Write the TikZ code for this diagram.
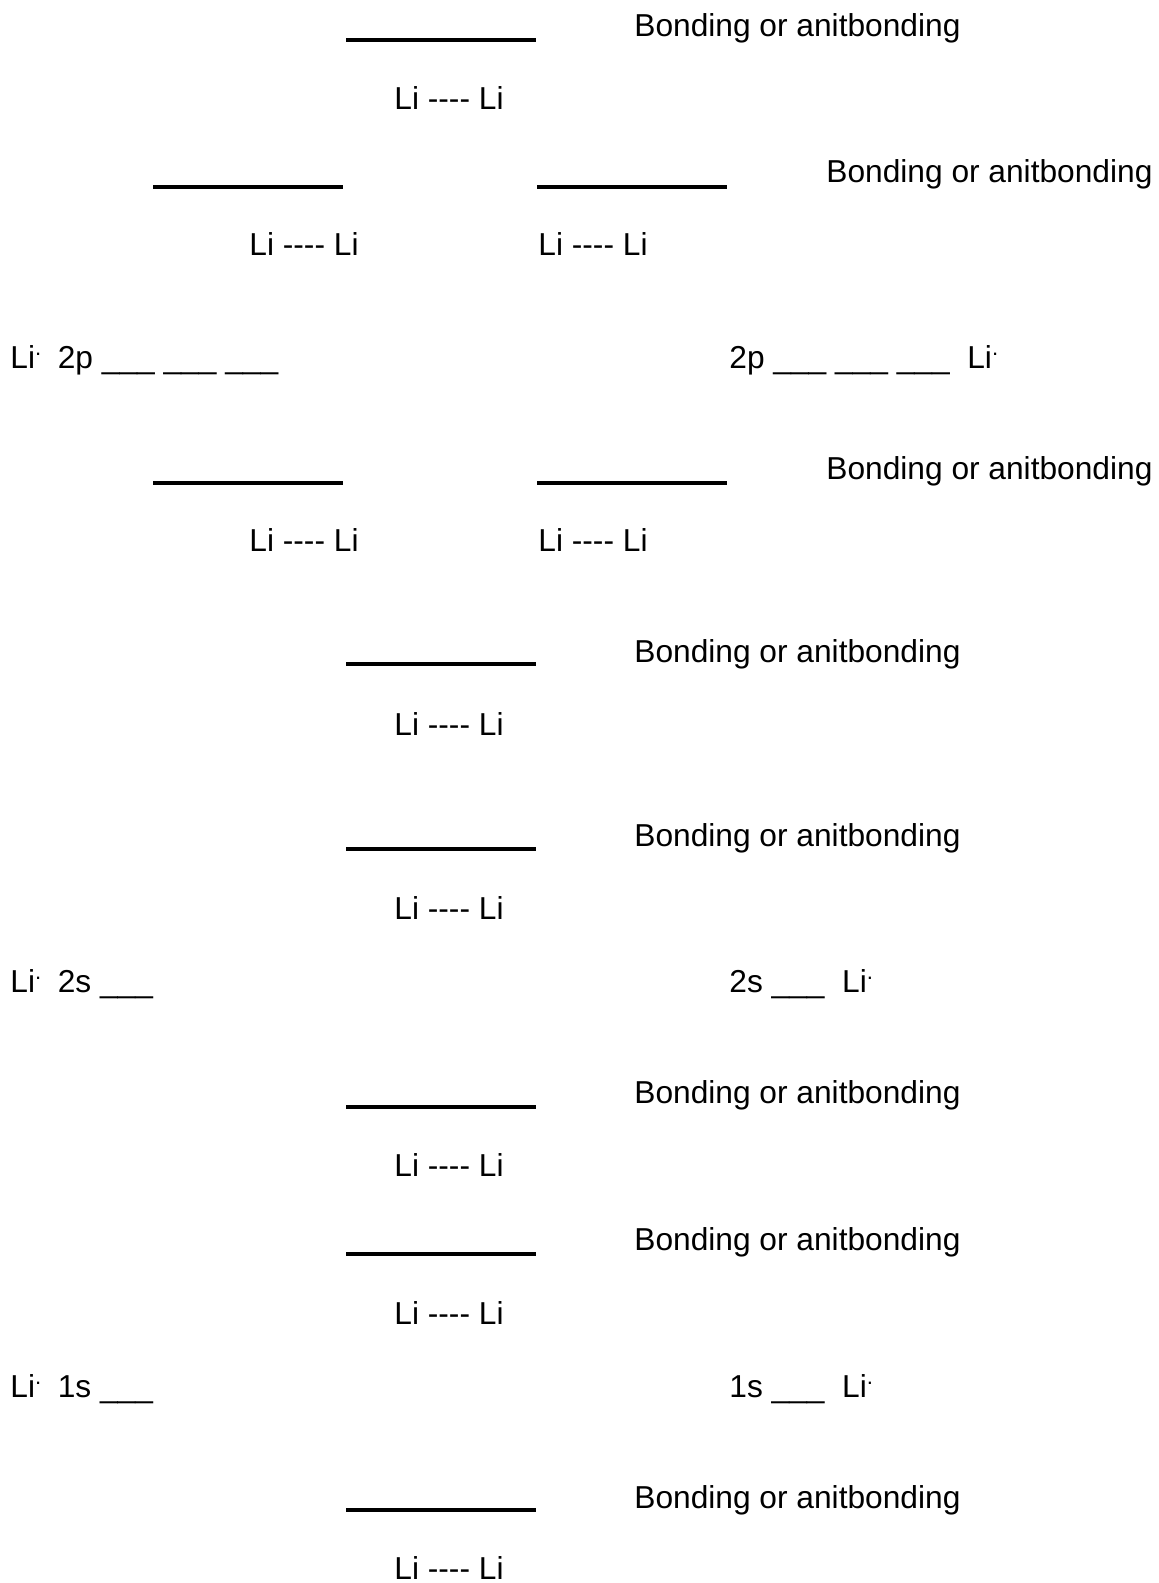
\documentclass[tikz,border=0pt]{standalone}
\usepackage{fontspec}
\setmainfont{Liberation Sans}
\tikzset{
  molevel/.style={line width=1.6pt},
  lbl/.style={anchor=base west, inner sep=0pt, font=\fontsize{15.85}{19}\selectfont},
}
\newcommand{\lidot}{Li\textsuperscript{.}}
\newcommand{\lili}{Li -{}-{}-{}- Li}

\begin{document}
\begin{tikzpicture}[x=0.5pt,y=-0.5pt]
\useasboundingbox (0,0) rectangle (1158,1583);

% sigma* 2p
\coordinate (p1) at (346,40);
\draw[molevel] (p1) -- ++(190,0);
\node[lbl] (p1t) at (634,37) {Bonding or anitbonding};
\node[lbl] (p1l) at (394,110) {\lili};

% pi* 2p
\coordinate (p2a) at (153,187);
\coordinate (p2b) at (537,187);
\draw[molevel] (p2a) -- ++(190,0);
\draw[molevel] (p2b) -- ++(190,0);
\node[lbl] (p2t) at (826,183) {Bonding or anitbonding};
\node[lbl] (p2la) at (249,256) {\lili};
\node[lbl] (p2lb) at (538,256) {\lili};

% atomic 2p
\node[lbl] (l2p) at (10,368) {\lidot\ \ \kern-1pt 2p \_\_\_ \_\_\_ \_\_\_};
\node[lbl] (r2p) at (729,368) {2p \_\_\_ \_\_\_ \_\_\_\ \ \lidot};

% pi 2p
\coordinate (p3a) at (153,483);
\coordinate (p3b) at (537,483);
\draw[molevel] (p3a) -- ++(190,0);
\draw[molevel] (p3b) -- ++(190,0);
\node[lbl] (p3t) at (826,479) {Bonding or anitbonding};
\node[lbl] (p3la) at (249,551) {\lili};
\node[lbl] (p3lb) at (538,551) {\lili};

% sigma 2p
\coordinate (p4) at (346,664);
\draw[molevel] (p4) -- ++(190,0);
\node[lbl] (p4t) at (634,662) {Bonding or anitbonding};
\node[lbl] (p4l) at (394,735) {\lili};

% sigma* 2s
\coordinate (s1) at (346,849);
\draw[molevel] (s1) -- ++(190,0);
\node[lbl] (s1t) at (634,846) {Bonding or anitbonding};
\node[lbl] (s1l) at (394,919) {\lili};

% atomic 2s
\node[lbl] (l2s) at (10,992) {\lidot\ \ \kern-1pt 2s \_\_\_};
\node[lbl] (r2s) at (729,992) {2s \_\_\_\ \ \lidot};

% sigma 2s
\coordinate (s2) at (346,1107);
\draw[molevel] (s2) -- ++(190,0);
\node[lbl] (s2t) at (634,1103) {Bonding or anitbonding};
\node[lbl] (s2l) at (394,1176) {\lili};

% sigma* 1s
\coordinate (s3) at (346,1254);
\draw[molevel] (s3) -- ++(190,0);
\node[lbl] (s3t) at (634,1250) {Bonding or anitbonding};
\node[lbl] (s3l) at (394,1324) {\lili};

% atomic 1s
\node[lbl] (l1s) at (10,1397) {\lidot\ \ \kern-1pt 1s \_\_\_};
\node[lbl] (r1s) at (729,1397) {1s \_\_\_\ \ \lidot};

% sigma 1s
\coordinate (s4) at (346,1510);
\draw[molevel] (s4) -- ++(190,0);
\node[lbl] (s4t) at (634,1508) {Bonding or anitbonding};
\node[lbl] (s4l) at (394,1579) {\lili};
\end{tikzpicture}
\end{document}
